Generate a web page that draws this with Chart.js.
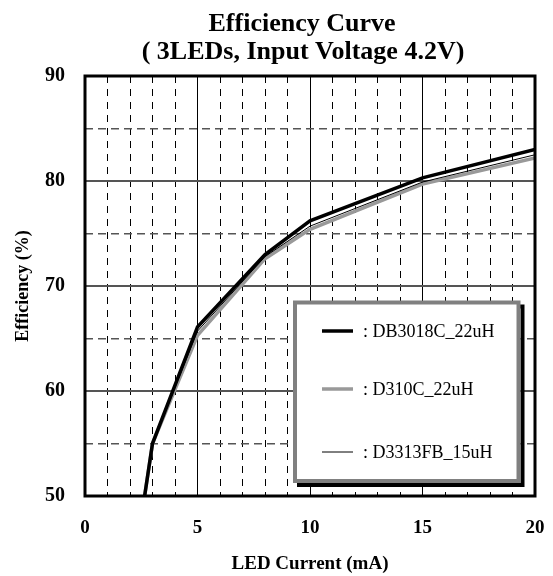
<!DOCTYPE html>
<html>
<head>
<meta charset="utf-8">
<script src="https://cdn.jsdelivr.net/npm/chart.js@4.4.1/dist/chart.umd.min.js"></script>
<style>
  html, body { margin: 0; padding: 0; background: #fff; }
  #wrap { width: 553px; height: 576px; }
</style>
</head>
<body>
<div id="wrap"><canvas id="chartEfficiency"></canvas></div>
<script>
const titleLines = [`Efficiency Curve`, `( 3LEDs, Input Voltage 4.2V)`];
const currents = [2.65, 3, 5, 8, 10, 15, 20];
const effDB3018C = [50, 55, 66.1, 73.0, 76.2, 80.3, 83.0];
const effD310C = [50, 55, 65.3, 72.6, 75.4, 79.7, 82.2];
const effD3313FB = [50, 55, 65.7, 72.8, 75.7, 79.9, 82.5];
const seriesNames = [`DB3018C_22uH`, `D310C_22uH`, `D3313FB_15uH`];
const xTickLabels = [0, 5, 10, 15, 20];
const yTickLabels = [50, 60, 70, 80, 90];

const serif = `"Liberation Serif", "Times New Roman", serif`;

function Points(ys) {
  return currents.map((x, i) => ({ x, y: ys[i] }));
}

// title, frame and boxed legend are drawn by hand
const paperPlugin = {
  id: `paper`,
  afterDatasetsDraw(chart) {
    const { ctx, chartArea: a } = chart;
    ctx.save();
    ctx.strokeStyle = `#000`;
    ctx.lineWidth = 3;
    ctx.strokeRect(a.left, a.top, a.right - a.left, a.bottom - a.top);
    ctx.restore();
  },
  afterDraw(chart) {
    const { ctx } = chart;
    ctx.save();
    ctx.fillStyle = `#000`;
    ctx.textAlign = `center`;
    ctx.textBaseline = `alphabetic`;
    ctx.font = `bold 26px ${serif}`;
    ctx.fillText(titleLines[0], 302, 31);
    ctx.fillText(titleLines[1], 303, 59);

    // legend box
    const box = { x: 295, y: 302.5, w: 223.5, h: 178.5 };
    ctx.strokeStyle = `#000`;
    ctx.lineWidth = 4;
    ctx.strokeRect(box.x + 4, box.y + 4, box.w, box.h);
    ctx.fillStyle = `#fff`;
    ctx.fillRect(box.x, box.y, box.w, box.h);
    ctx.strokeStyle = `#808080`;
    ctx.strokeRect(box.x, box.y, box.w, box.h);

    const rows = [331, 389, 452];
    chart.data.datasets.forEach((ds, i) => {
      ctx.strokeStyle = ds.borderColor;
      ctx.lineWidth = ds.borderWidth;
      ctx.beginPath();
      ctx.moveTo(322, rows[i]);
      ctx.lineTo(353, rows[i]);
      ctx.stroke();
      ctx.fillStyle = `#000`;
      ctx.textAlign = `left`;
      ctx.textBaseline = `middle`;
      ctx.font = `18px ${serif}`;
      ctx.fillText(`: ` + ds.label, 363, rows[i] + 1);
    });
    ctx.restore();
  }
};

function DashX(c) {
  if (!c.tick) return [];
  return c.tick.value % 5 === 0 ? [] : [7, 6];
}
function DashY(c) {
  if (!c.tick) return [];
  return c.tick.value % 10 === 0 ? [] : [8, 5];
}

const ctx = document.getElementById(`chartEfficiency`).getContext(`2d`);
const chart = new Chart(ctx, {
  type: `line`,
  data: {
    datasets: [
      { label: seriesNames[0], data: Points(effDB3018C), borderColor: `#000`, borderWidth: 3.5, order: 0 },
      { label: seriesNames[1], data: Points(effD310C), borderColor: `#999`, borderWidth: 3.5, order: 2 },
      { label: seriesNames[2], data: Points(effD3313FB), borderColor: `#000`, borderWidth: 1, order: 1 },
    ]
  },
  options: {
    responsive: true,
    maintainAspectRatio: false,
    animation: false,
    layout: { padding: { left: 0, right: 18, top: 76, bottom: 0 } },
    elements: {
      point: { radius: 0 },
      line: { tension: 0, fill: false, borderCapStyle: `butt` }
    },
    plugins: {
      legend: { display: false },
      title: { display: false },
      tooltip: { enabled: false }
    },
    scales: {
      x: {
        type: `linear`,
        min: xTickLabels[0],
        max: xTickLabels[xTickLabels.length - 1],
        afterFit: (s) => { s.height = 80; s.paddingLeft = 0; s.paddingRight = 0; },
        border: { display: false, dash: DashX },
        grid: {
          drawTicks: false,
          color: `#000`,
          lineWidth: 1,
          borderDash: DashX
        },
        ticks: {
          stepSize: 1,
          autoSkip: false,
          maxRotation: 0,
          padding: 21,
          color: `#000`,
          font: { family: serif, size: 19, weight: `bold` },
          callback: (v) => xTickLabels.includes(v) ? String(v) : ``
        },
        title: {
          display: true,
          text: `LED Current (mA)`,
          color: `#000`,
          font: { family: serif, size: 19, weight: `bold` },
          padding: { top: 0, bottom: 1 }
        }
      },
      y: {
        min: yTickLabels[0],
        max: yTickLabels[yTickLabels.length - 1],
        afterFit: (s) => { s.width = 85; s.paddingTop = 0; s.paddingBottom = 0; },
        border: { display: false, dash: DashY },
        grid: {
          drawTicks: false,
          color: `#555`,
          lineWidth: (c) => c.tick && c.tick.value % 10 === 0 ? 2 : 1.5,
          borderDash: DashY
        },
        ticks: {
          stepSize: 5,
          autoSkip: false,
          padding: 20,
          color: `#000`,
          font: { family: serif, size: 20, weight: `bold` },
          callback: (v) => yTickLabels.includes(v) ? String(v) : ``
        },
        title: {
          display: true,
          text: `Efficiency (%)`,
          color: `#000`,
          font: { family: serif, size: 18, weight: `bold` },
          padding: { top: 13, bottom: 0 }
        }
      }
    }
  },
  plugins: [paperPlugin]
});
</script>
</body>
</html>
